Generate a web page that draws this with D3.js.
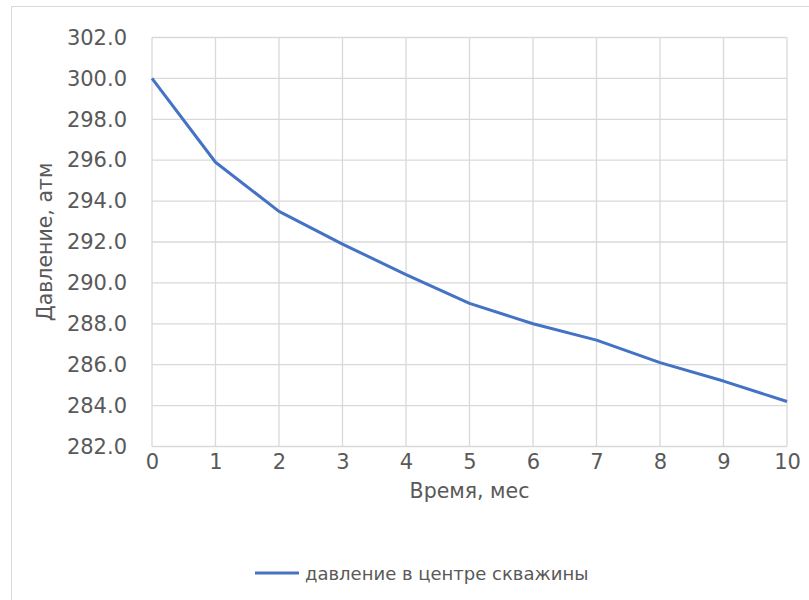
<!DOCTYPE html>
<html>
<head>
<meta charset="utf-8">
<script src="https://cdn.jsdelivr.net/npm/d3@7"></script>
<style>
  html, body { margin: 0; padding: 0; background: #fff; }
  svg { display: block; }
  text { font-family: "DejaVu Sans", sans-serif; fill: #595959; }
</style>
</head>
<body>
<script>
// Pressure at the well centre over time
const months = [0, 1, 2, 3, 4, 5, 6, 7, 8, 9, 10];
const pressure = [300.0, 295.9, 293.5, 291.9, 290.4, 289.0, 288.0, 287.2, 286.1, 285.2, 284.2];
const yTicks = [282, 284, 286, 288, 290, 292, 294, 296, 298, 300, 302];
const seriesName = "давление в центре скважины";
const xTitle = "Время, мес";
const yTitle = "Давление, атм";

const W = 809, H = 600;
const plot = { left: 152, right: 787, top: 37.5, bottom: 446.5 };
const font = "'DejaVu Sans', sans-serif";

const svg = d3.select("body").append("svg").attr("width", W).attr("height", H);

// chart frame
svg.append("rect")
  .attr("x", 11.5).attr("y", 6.5)
  .attr("width", W + 10).attr("height", H + 10)
  .attr("fill", "#fff").attr("stroke", "#d9d9d9").attr("stroke-width", 1);

const x = d3.scaleLinear().domain([0, 10]).range([plot.left, plot.right]);
const y = d3.scaleLinear().domain([282, 302]).range([plot.bottom, plot.top]);

// gridlines
const grid = svg.append("g").attr("stroke", "#d9d9d9").attr("stroke-width", 1.3);
grid.selectAll("line.h").data(yTicks).join("line")
  .attr("x1", plot.left).attr("x2", plot.right)
  .attr("y1", d => y(d)).attr("y2", d => y(d));
grid.selectAll("line.v").data(months).join("line")
  .attr("x1", d => x(d)).attr("x2", d => x(d))
  .attr("y1", plot.top).attr("y2", plot.bottom);

// axes (labels only, lines drawn by grid)
const yAxis = svg.append("g").attr("transform", `translate(${plot.left},0)`)
  .call(d3.axisLeft(y).tickValues(yTicks).tickFormat(d3.format(".1f")).tickSize(0).tickPadding(25));
const xAxis = svg.append("g").attr("transform", `translate(0,${plot.bottom})`)
  .call(d3.axisBottom(x).tickValues(months).tickFormat(d3.format("d")).tickSize(0).tickPadding(6));
[yAxis, xAxis].forEach(a => {
  a.select(".domain").remove();
  a.selectAll("text").style("font-family", font)
    .style("font-size", "21px").attr("fill", "#595959");
});
xAxis.selectAll("text").attr("dy", "0.8em");

// series line
svg.append("path")
  .datum(months.map((m, i) => [m, pressure[i]]))
  .attr("fill", "none")
  .attr("stroke", "#4472c4")
  .attr("stroke-width", 3)
  .attr("stroke-linejoin", "round")
  .attr("d", d3.line().x(d => x(d[0])).y(d => y(d[1])));

// axis titles
svg.append("text")
  .attr("x", (plot.left + plot.right) / 2).attr("y", 498)
  .attr("text-anchor", "middle").style("font-size", "20.5px")
  .text(xTitle);
svg.append("text")
  .attr("transform", `translate(52,${(plot.top + plot.bottom) / 2}) rotate(-90)`)
  .attr("text-anchor", "middle").style("font-size", "20.5px")
  .text(yTitle);

// legend
const lg = svg.append("g");
lg.append("line")
  .attr("x1", 255).attr("x2", 299).attr("y1", 573).attr("y2", 573)
  .attr("stroke", "#4472c4").attr("stroke-width", 3);
lg.append("text")
  .attr("x", 305).attr("y", 579.5)
  .style("font-size", "18px")
  .text(seriesName);
</script>
</body>
</html>
